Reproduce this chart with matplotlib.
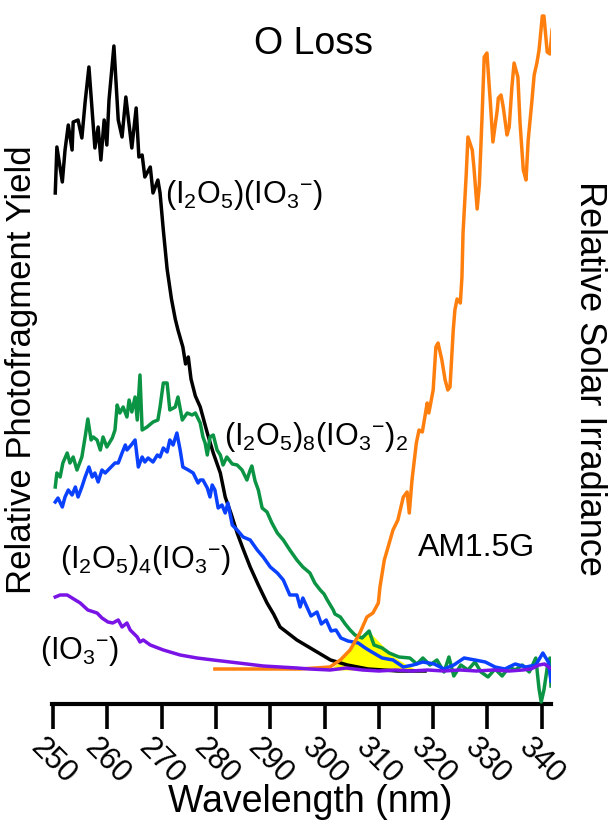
import numpy as np
import matplotlib.pyplot as plt

plt.rcParams['font.family'] = ['Liberation Sans', 'DejaVu Sans']
plt.rcParams['mathtext.fontset'] = 'custom'
plt.rcParams['mathtext.rm'] = 'Liberation Sans'
plt.rcParams['mathtext.it'] = 'Liberation Sans:italic'
plt.rcParams['mathtext.bf'] = 'Liberation Sans:bold'

# (I2O5)(IO3-) photofragment yield
black_nm = [250.4, 250.7, 251.7, 252.2, 252.8, 253.5, 253.7, 254.6, 255.3, 255.9, 256.6, 257.7,
            258.3, 258.8, 259.4, 259.9, 260.3, 261.2, 262.0, 262.7, 263.4, 264.5, 265.3, 265.8,
            266.4, 266.9, 267.9, 268.4, 269.3, 269.7, 270.3, 271.0, 271.8, 272.5, 273.0, 273.9,
            274.4, 274.9, 275.4, 276.2, 277.1, 278.4, 279.5, 280.8, 281.7, 282.8, 283.9, 285.0,
            286.3, 287.8, 289.4, 290.6, 291.8, 294.9, 298.0, 301.1, 304.2, 308.0, 313.5, 318.5]
black_y = [476, 522, 487, 519, 544, 519, 547, 549, 531, 567, 602, 521,
           542, 509, 549, 524, 569, 623, 549, 532, 572, 521, 561, 512,
           514, 492, 502, 476, 489, 476, 439, 400, 370, 350, 339, 322,
           305, 312, 290, 273, 262, 236, 216, 196, 172, 155, 136, 120,
           102, 84, 66, 55, 42, 29, 19, 9, 4, 0, -2, -2]

# (I2O5)8(IO3-)2
green_nm = [250.4, 250.7, 251.3, 251.8, 252.6, 253.1, 253.7, 254.4, 255.3, 255.9, 256.4, 257.0,
            257.4, 258.1, 258.7, 259.2, 259.9, 260.9, 261.4, 261.8, 262.3, 262.9, 263.6, 264.0,
            264.5, 265.1, 265.5, 266.0, 266.4, 267.3, 268.4, 269.3, 269.7, 270.3, 271.0, 271.5,
            272.5, 273.0, 273.8, 274.7, 275.6, 276.2, 277.1, 277.6, 278.0, 278.4, 278.9, 279.5,
            280.2, 280.8, 281.3, 282.0, 283.0, 283.9, 284.8, 285.7, 286.3, 286.6, 287.2, 287.8,
            288.5, 289.4, 290.3, 291.3, 292.4, 293.6, 294.9, 296.0, 297.3, 298.2, 299.2, 299.9,
            300.5, 301.6, 301.9, 302.9, 303.8, 304.7, 305.6, 306.9, 308.2, 309.1, 310.6, 311.9,
            313.7, 315.7, 317.0, 318.1, 319.4, 320.7, 322.0, 322.9, 323.8, 325.1, 326.4, 327.7,
            328.8, 330.1, 331.4, 332.7, 334.0, 335.1, 336.4, 337.7, 338.9, 339.5, 339.9, 340.4,
            341.0, 341.5, 341.7]
green_y = [182, 196, 192, 206, 216, 206, 212, 199, 212, 232, 250, 229,
           232, 229, 219, 232, 222, 231, 239, 264, 256, 262, 252, 269,
           257, 272, 249, 294, 239, 242, 247, 249, 262, 286, 286, 259,
           262, 272, 249, 256, 254, 256, 246, 232, 226, 214, 232, 234,
           219, 214, 204, 212, 205, 204, 199, 189, 199, 203, 188, 179,
           161, 157, 146, 136, 129, 119, 109, 102, 96, 86, 79, 75,
           69, 59, 55, 52, 45, 39, 34, 31, 38, 24, 21, 16,
           12, 11, 5, 11, 4, 9, -3, 12, -7, 4, -1, 7,
           -3, -8, 0, -7, 2, -1, 4, -3, 11, -20, -33, -21,
           1, 11, -17]

# (I2O5)4(IO3-)
blue_nm = [250.4, 250.9, 251.7, 252.2, 252.8, 253.5, 254.1, 254.6, 255.3, 255.9, 256.6, 257.2,
           257.7, 258.3, 259.0, 259.6, 260.5, 261.4, 262.0, 262.7, 263.3, 263.6, 264.4, 265.1,
           265.7, 266.4, 266.9, 267.5, 268.4, 269.2, 269.7, 270.3, 271.0, 271.5, 272.1, 272.8,
           273.4, 273.9, 274.9, 275.8, 276.7, 277.1, 277.6, 278.4, 278.9, 279.3, 279.8, 280.4,
           281.1, 281.7, 282.2, 283.0, 283.9, 285.0, 286.3, 287.6, 288.7, 290.0, 291.3, 292.4,
           293.6, 294.9, 295.5, 296.0, 297.5, 298.6, 299.4, 300.3, 301.2, 302.1, 303.0, 304.3,
           306.2, 307.5, 308.7, 310.6, 312.6, 314.5, 316.3, 318.1, 320.2, 322.0, 323.8, 325.7,
           327.7, 329.6, 331.4, 333.2, 335.1, 337.1, 338.9, 340.2, 341.2, 341.7]
blue_y = [167, 171, 162, 172, 179, 174, 182, 172, 182, 192, 202, 192,
          196, 187, 199, 196, 201, 206, 206, 216, 224, 219, 224, 229,
          202, 212, 207, 211, 207, 214, 212, 221, 217, 229, 224, 236,
          219, 202, 199, 196, 186, 189, 189, 181, 172, 184, 179, 161,
          164, 156, 166, 144, 139, 132, 129, 119, 112, 102, 96, 89,
          74, 74, 62, 71, 53, 57, 45, 49, 38, 39, 31, 28,
          26, 21, 17, 11, 9, 2, 4, 7, 5, 0, 4, 11,
          9, 7, 2, 0, 5, 2, 4, 16, 7, -12]

# (IO3-)
purple_nm = [250.4, 251.3, 252.6, 253.5, 255.0, 256.4, 258.1, 259.0, 260.1, 261.0, 262.0, 262.7,
             263.6, 264.2, 265.5, 266.0, 266.6, 267.9, 270.3, 273.4, 276.5, 279.5, 282.6, 285.7,
             288.7, 291.8, 294.9, 297.3, 301.0, 304.0, 307.0, 310.0, 313.0, 316.0, 319.0, 322.0,
             325.0, 328.0, 331.0, 334.0, 336.5, 338.0, 339.5, 340.5, 341.5]
purple_y = [72, 74, 74, 71, 66, 59, 56, 51, 47, 46, 49, 42,
            46, 39, 32, 27, 29, 24, 19, 14, 11, 9, 7, 5,
            3, 2, 1, 0, -1, 1, -1, -2, -1, -2, -1, -2,
            -1, -2, -1, -2, -1, 0, 4, 5, 1]

# AM1.5G solar irradiance
orange_nm = [279.8, 295.5, 301.0, 302.9, 304.7, 306.5, 307.8, 308.9, 309.9, 310.2, 311.0, 311.7,
             312.6, 313.5, 314.5, 315.2, 315.6, 316.1, 316.9, 317.4, 318.0, 318.9, 319.2, 320.0,
             320.5, 320.9, 321.6, 322.2, 322.7, 323.1, 323.7, 324.0, 324.4, 325.0, 325.3, 325.5,
             326.1, 326.4, 327.2, 327.5, 328.1, 328.5, 329.0, 329.4, 329.9, 330.5, 331.0, 331.8,
             332.0, 332.5, 332.9, 333.6, 334.0, 334.5, 334.9, 335.6, 336.0, 336.6, 337.1, 337.5,
             338.2, 338.6, 339.1, 339.5, 340.1, 340.4, 341.0, 341.5, 341.9]
orange_y = [0, 0, 2, 9, 19, 36, 52, 56, 66, 82, 109, 122,
            139, 149, 172, 177, 156, 189, 226, 239, 237, 266, 256, 279,
            322, 326, 309, 289, 279, 282, 339, 359, 370, 366, 392, 436,
            496, 532, 519, 502, 460, 484, 552, 612, 616, 569, 527, 559,
            571, 574, 562, 534, 542, 582, 606, 592, 546, 499, 489, 529,
            569, 594, 606, 619, 653, 653, 617, 615, 639]

# overlap region (yellow)
overlap_nm = [301.0, 301.6, 302.5, 303.5, 304.1, 305.2, 306.5, 307.8, 308.6, 309.7, 310.6, 311.5,
              312.6, 313.7, 315.2, 316.3, 317.0]
overlap_y = [0, 2, 6, 13, 17, 25, 33, 38, 35, 29, 24, 19, 13, 9, 4, 1, 0]

ticks = list(range(250, 341, 10))

W, H = 608, 825
fig = plt.figure(figsize=(W / 100, H / 100), dpi=100)
ax = fig.add_axes([52 / W, 1 - 704 / H, 499 / W, 704 / H])

lw = 2.5
ax.fill_between(overlap_nm, -1, overlap_y, color='#FFFF00', lw=0, zorder=1)
ax.plot(black_nm, black_y, color='black', lw=lw, zorder=3)
ax.plot(green_nm, green_y, color='#0B9444', lw=lw, zorder=3)
ax.plot(blue_nm, blue_y, color='#0A41FF', lw=lw, zorder=4)
ax.plot(orange_nm, orange_y, color='#FF7F0E', lw=lw, zorder=4)
ax.plot(purple_nm, purple_y, color='#7A14E6', lw=lw, zorder=5)

ax.set_xlim(249.8, 341.7)
ax.set_ylim(-35, 669)
for s in ['left', 'right', 'top']:
    ax.spines[s].set_visible(False)
ax.spines['bottom'].set_linewidth(3)
ax.set_yticks([])
ax.set_xticks(ticks)
ax.set_xticklabels([str(t) for t in ticks], rotation=-45, ha='center', fontsize=22)
ax.tick_params(axis='x', length=18, width=2.6, pad=3, direction='out')
ax.patch.set_alpha(0)


def label(x, y, s, size=22, **kw):
    fig.text(x / W, 1 - y / H, s, fontsize=size, va='center', **kw)


label(314, 44, 'O Loss', size=27, ha='center')
label(165, 195, '(I$_2$O$_5$)(IO$_3{}^{-}$)', ha='left')
label(224, 437, '(I$_2$O$_5$)$_8$(IO$_3{}^{-}$)$_2$', ha='left')
label(60, 560, '(I$_2$O$_5$)$_4$(IO$_3{}^{-}$)', ha='left')
label(418, 548, 'AM1.5G', size=23, ha='left')
label(40, 651, '(IO$_3{}^{-}$)', ha='left')
label(22, 370, 'Relative Photofragment Yield', size=25, ha='center', rotation=90)
label(590, 378, 'Relative Solar Irradiance', size=26, ha='center', rotation=270)
label(310, 802, 'Wavelength (nm)', size=27, ha='center')

fig.savefig('out.png', dpi=100)
